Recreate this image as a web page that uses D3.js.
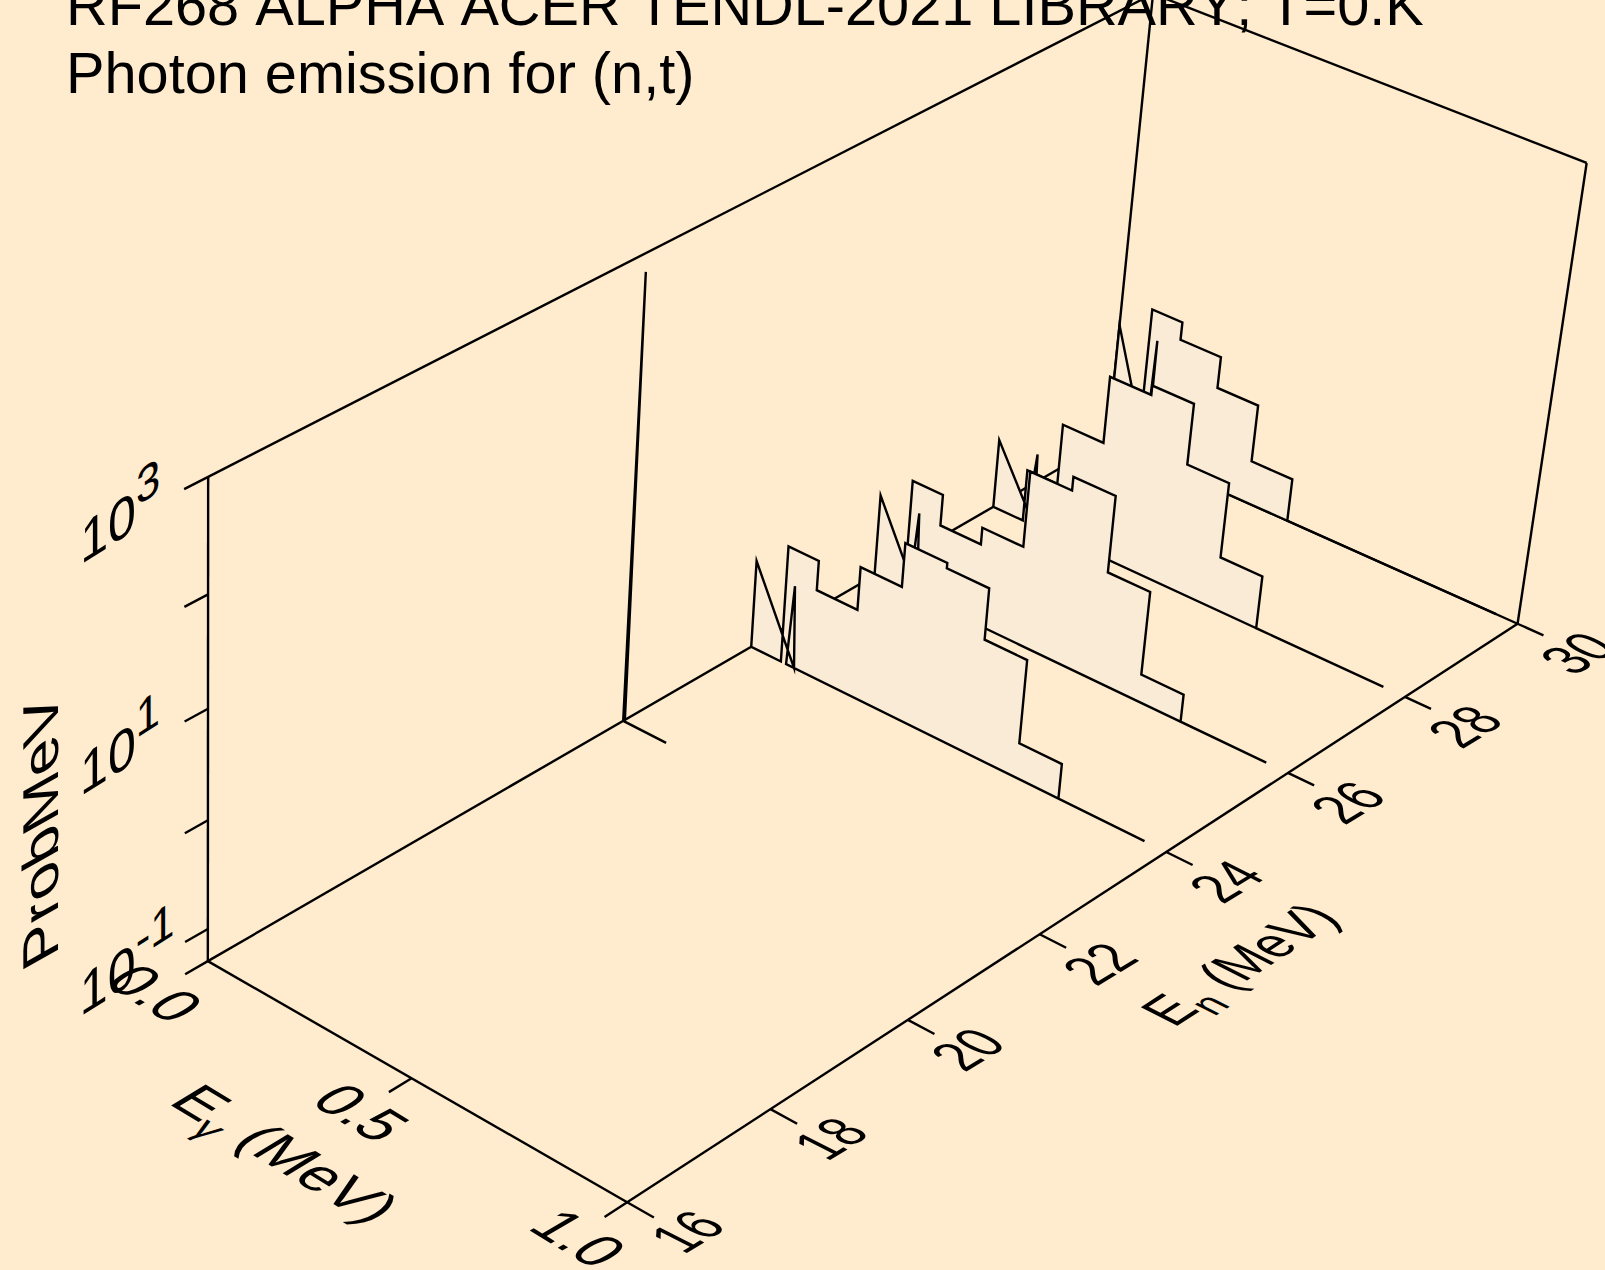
<!DOCTYPE html><html><head><meta charset="utf-8"><script src="https://cdn.jsdelivr.net/npm/d3@7"></script>
<style>html,body{margin:0;background:#ffebcd}svg{display:block}text{font-family:"Liberation Sans",Arial,sans-serif;fill:#000;font-kerning:none}</style></head><body><div id="c"></div><script>
// ---- data (Eg in MeV, Prob in 1/MeV), polygons in drawing order ----
const titleLines=["RF268 ALPHA ACER TENDL-2021 LIBRARY; T=0.K","Photon emission for (n,t)"];
const enTicks=[16,18,20,22,24,26,28,30];
const gammaTicks=[0,0.5,1.0];
const gammaLabels=["0.0","0.5","1.0"];
const probTicks=[0.1,1,10,100,1000];
const probLabelled=[[0.1,"-1"],[10,"1"],[1000,"3"]];
const en30Gamma=[0,0,0.097,0.095,0.09,0.95,0.45,0.45,0.35,0.35,0.25,0.25,0.15,0.15,0.075,0.075];
const en30Prob=[0.05,0.71,0.05,0.72,0.05,0.05,0.05,0.129,0.129,0.457,0.457,0.912,0.912,1.35,1.35,0.05];
const en28Gamma=[0,0,0.103,0.096,0.083,0.95,0.65,0.65,0.55,0.55,0.45,0.45,0.35,0.35,0.25,0.25,0.15,0.15,0.075,0.075];
const en28Prob=[0.05,0.23,0.05,0.245,0.05,0.05,0.05,0.16,0.16,0.832,0.832,3.16,3.16,2.57,2.57,0.596,0.596,0.157,0.157,0.05];
const en26Gamma=[0,0,0.107,0.097,0.087,0.95,0.75,0.75,0.65,0.65,0.55,0.55,0.45,0.45,0.35,0.35,0.25,0.25,0.15,0.15,0.075,0.075];
const en26Prob=[0.05,0.305,0.05,0.305,0.05,0.05,0.05,0.0912,0.0912,0.562,0.562,2.95,2.95,2.19,2.19,0.422,0.422,0.292,0.292,0.575,0.575,0.05];
const en24Gamma=[0,0,0.108,0.097,0.088,0.95,0.75,0.75,0.65,0.65,0.55,0.55,0.45,0.45,0.35,0.35,0.25,0.25,0.15,0.15,0.075,0.075];
const en24Prob=[0.05,0.34,0.05,0.295,0.05,0.05,0.05,0.107,0.107,0.653,0.653,1.97,1.97,2.21,2.21,0.861,0.861,0.339,0.339,0.645,0.645,0.05];
const en22Gamma=[0,0.002,0.004,0.108];
const en22Prob=[0.05,690,0.05,0.05];
const seriesEn=[30,28,26,24,22];
const seriesGamma=[en30Gamma,en28Gamma,en26Gamma,en24Gamma,en22Gamma];
const seriesProb=[en30Prob,en28Prob,en26Prob,en24Prob,en22Prob];

// ---- scales: each axis onto the unit cube, then a perspective camera ----
const xS=d3.scaleLinear().domain([0,1]).range([0,1]);
const yS=d3.scaleLinear().domain([16,30]).range([0,1]);
const zS=d3.scaleLog().domain([0.05,1000]).range([0,1]);
// camera fitted to the visible frame: unit-cube corner -> page position
const cubeFit=[[0,0,0,208,960],[1,0,0,627,1202],[1,1,0,1517,624],[0,1,0,1109,441],[0,0,1,209,477],[0,1,1,1152,-7],[1,1,1,1587,163],
[1,1/7,0,771,1109],[1,2/7,0,909,1020],[1,3/7,0,1040,934],[1,4/7,0,1167,852],[1,5/7,0,1288,773],[1,6/7,0,1404,697],[.5,0,0,409,1078],
[0,0,zS(0.1),208,929],[0,0,zS(1),208,821],[0,0,zS(10),208,709],[0,0,zS(100),208,595]];
function solve(A,b){const n=b.length,M=A.map((r,i)=>[...r,b[i]]);for(let i=0;i<n;i++){let q=i;for(let k=i;k<n;k++)if(Math.abs(M[k][i])>Math.abs(M[q][i]))q=k;[M[i],M[q]]=[M[q],M[i]];for(let k=0;k<n;k++)if(k!=i){const f=M[k][i]/M[i][i];for(let j=i;j<=n;j++)M[k][j]-=f*M[i][j];}}return M.map((r,i)=>r[n]/r[i]);}
const rows=[],rhs=[];cubeFit.forEach(([u,v,w,x,y])=>{rows.push([u,v,w,1,0,0,0,0,-x*u,-x*v,-x*w]);rhs.push(x);rows.push([0,0,0,0,u,v,w,1,-y*u,-y*v,-y*w]);rhs.push(y);});
const idx=d3.range(11);
const cam=solve(idx.map(i=>idx.map(j=>d3.sum(rows,r=>r[i]*r[j]))),idx.map(i=>d3.sum(rows,(r,k)=>r[i]*rhs[k])));
function cube(u,v,w){const d=cam[8]*u+cam[9]*v+cam[10]*w+1;return[(cam[0]*u+cam[1]*v+cam[2]*w+cam[3])/d,(cam[4]*u+cam[5]*v+cam[6]*w+cam[7])/d];}
const pt=(g,en,p)=>cube(xS(g),yS(en),zS(p));

// ---- drawing ----
const INK="#000",FILL="#faebd7",SW=2.4,FS=57.7;
const svg=d3.select("#c").append("svg").attr("width",1605).attr("height",1270);
svg.append("rect").attr("width",1605).attr("height",1270).attr("fill","#ffebcd");
svg.selectAll("text.title").data(titleLines).join("text").attr("class","title").attr("x",66).attr("y",(d,i)=>25+i*68).attr("font-size",FS).text(d=>d);
const line=d3.line();
const seg=(a,b)=>svg.append("path").attr("d",line([a,b])).attr("fill","none").attr("stroke",INK).attr("stroke-width",SW);
const [g0,g1]=xS.domain(),[e0,e1]=yS.domain(),[p0,p1]=zS.domain();
// frame
[[[g0,e0,p0],[g0,e0,p1]],[[g0,e0,p1],[g0,e1,p1]],[[g0,e1,p1],[g1,e1,p1]],[[g1,e1,p1],[g1,e1,p0]],[[g0,e1,p1],[g0,e1,p0]],
 [[g0,e1,p0],[g1,e1,p0]],[[g0,e0,p0],[g1,e0,p0]],[[g1,e0,p0],[g1,e1,p0]],[[g0,e0,p0],[g0,e1,p0]]]
 .forEach(([a,b])=>seg(pt(...a),pt(...b)));
// ticks
const tickU=0.06,tickV=0.022*14; // tick lengths in axis units (Eg fraction, MeV)
enTicks.forEach(e=>seg(pt(g1,e,p0),pt(g1+tickU,e,p0)));
gammaTicks.forEach(g=>seg(pt(g,e0,p0),pt(g,e0-tickV,p0)));
probTicks.forEach(p=>seg(pt(g0,e0,p),pt(g0,e0-tickV,p)));
// spectra back to front
seriesEn.forEach((e,i)=>{
  const pts=seriesGamma[i].map((g,k)=>pt(g,e,seriesProb[i][k]));
  svg.append("path").attr("d",line(pts)+"Z").attr("fill",FILL).attr("stroke",INK).attr("stroke-width",SW).attr("stroke-linejoin","miter").attr("stroke-miterlimit",10);
});
// labels lying in the floor / wall planes
const mat=(x,y,X,Y)=>`matrix(${X[0]},${X[1]},${Y[0]},${Y[1]},${x},${y})`;
const enX=[.7,-.43],enY=[.95,.48],gX=[.85,.52],gY=[-.92,.54],zX=[.87,-.55],zY=[0,1];
enTicks.forEach(e=>{const q=pt(g1,e,p0);svg.append("text").attr("text-anchor","middle").attr("font-size",FS).attr("transform",mat(q[0]+79,q[1]+39,enX,enY)).text(e);});
gammaTicks.forEach((g,i)=>{const q=pt(g,e0,p0);svg.append("text").attr("text-anchor","middle").attr("font-size",FS).attr("transform",mat(q[0]-71+g*4,q[1]+43+g*4,gX,gY)).text(gammaLabels[i]);});
probLabelled.forEach(([p,s])=>{const q=pt(g0,e0,p);const t=svg.append("text").attr("font-size",FS).attr("transform",mat(q[0]-128,q[1]+88,zX,zY));
  t.append("tspan").text("10");t.append("tspan").attr("font-size",50).attr("dy",-23).text(s);});
const tE=svg.append("text").attr("font-size",FS).attr("transform",mat(1174,1028,[.71,-.46],[.92,.47]));
tE.append("tspan").text("E");tE.append("tspan").attr("font-size",44).attr("dy",14).text("n");tE.append("tspan").attr("dy",-14).text(" (MeV)");
const tG=svg.append("text").attr("font-size",FS).attr("transform",mat(167,1103,[.875,.53],[-.87,.53]));
tG.append("tspan").text("E");tG.append("tspan").attr("font-size",40).attr("dy",14).text("γ");tG.append("tspan").attr("dy",-14).text(" (MeV)");
svg.append("text").attr("font-size",FS).attr("transform",mat(58,955,[0,-1.11],[.874,-.49])).text("ProbMeV");
</script></body></html>
